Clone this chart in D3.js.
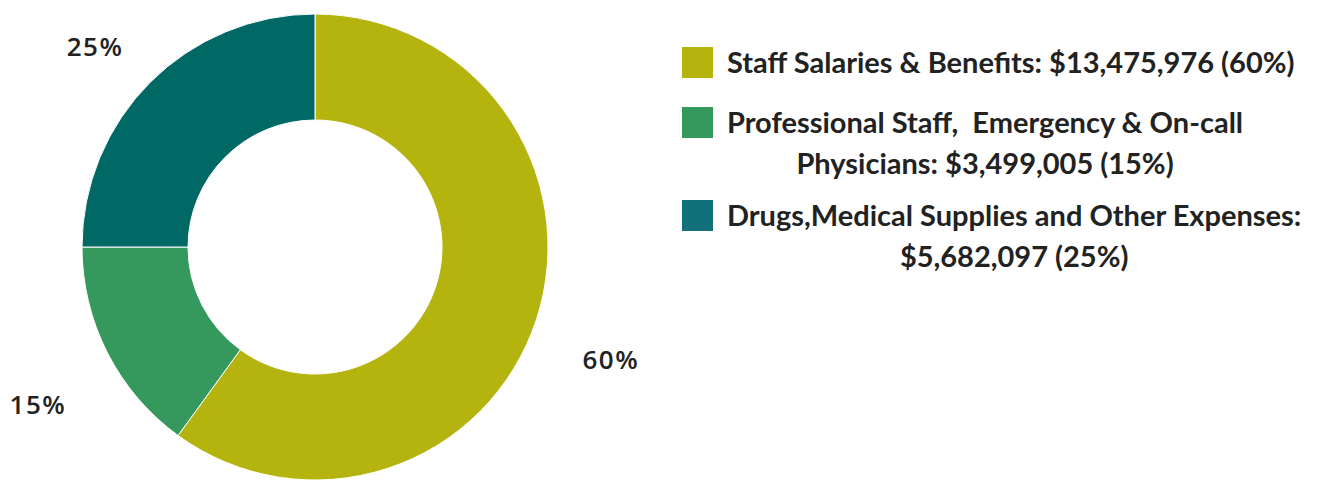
<!DOCTYPE html>
<html lang="en">
<head>
  <meta charset="UTF-8">
  <script src="https://d3js.org/d3.v7.min.js"></script>
  <style>
    body { margin: 0; background: #fff; }
  </style>
</head>
<body>
  <div id="chart"></div>
  <script>
    const amounts = [13475976, 3499005, 5682097];
    const pct_values = [60, 15, 25];
    const percents = ["60%", "15%", "25%"];
    const legend_lines = [
      ["Staff Salaries & Benefits: $13,475,976 (60%)"],
      ["Professional Staff,  Emergency & On-call", "Physicians: $3,499,005 (15%)"],
      ["Drugs,Medical Supplies and Other Expenses:", "$5,682,097 (25%)"]
    ];
    const slice_colors = ["#b5b40f", "#35985c", "#006966"];
    const legend_colors = ["#b5b40f", "#35985c", "#117079"];

    const width = 1323;
    const height = 480;
    const cx = 315, cy = 247;
    const outer_r = 233, inner_r = 127;
    const label_r = 308;

    const svg = d3.select("#chart")
      .append("svg")
      .attr("width", width)
      .attr("height", height);

    // slices follow the rounded shares shown on the chart
    const pie = d3.pie().sort(null).value(d => d);
    const arcs = pie(pct_values);
    const arc = d3.arc().innerRadius(inner_r).outerRadius(outer_r);

    const g = svg.append("g").attr("transform", `translate(${cx},${cy})`);

    g.selectAll("path")
      .data(arcs)
      .enter()
      .append("path")
      .attr("d", arc)
      .attr("fill", (d, i) => slice_colors[i])
      .attr("stroke", "#fff")
      .attr("stroke-width", 1);

    // percentage labels outside the ring
    g.selectAll("text.pct")
      .data(arcs)
      .enter()
      .append("text")
      .attr("class", "pct")
      .attr("text-anchor", "middle")
      .attr("x", d => (label_r + 3) * Math.sin((d.startAngle + d.endAngle) / 2))
      .attr("y", d => -label_r * Math.cos((d.startAngle + d.endAngle) / 2) + 27)
      .attr("fill", "#222")
      .style("font-family", "'Open Sans', sans-serif")
      .style("font-weight", 600)
      .style("font-size", "26px")
      .style("letter-spacing", "1.5px")
      .text((d, i) => percents[i]);

    // legend: each block is centred on its first line
    const legend_top = [47, 107, 200];
    const line_gap = 41;
    const text_x = 727;
    const legend = svg.append("g");

    legend_lines.forEach((lines, i) => {
      legend.append("rect")
        .attr("x", 682)
        .attr("y", legend_top[i])
        .attr("width", 31)
        .attr("height", 31)
        .attr("fill", legend_colors[i]);

      let mid = text_x;
      lines.forEach((t, j) => {
        const txt = legend.append("text")
          .attr("x", j === 0 ? text_x : mid)
          .attr("y", legend_top[i] + 26 + j * line_gap)
          .attr("text-anchor", j === 0 ? "start" : "middle")
          .attr("fill", "#222")
          .style("font-family", "Lato, sans-serif")
          .style("font-weight", "bold")
          .style("font-size", "29px")
          .style("white-space", "pre")
          .text(t);
        if (j === 0) mid = text_x + txt.node().getComputedTextLength() / 2;
      });
    });
  </script>
</body>
</html>
